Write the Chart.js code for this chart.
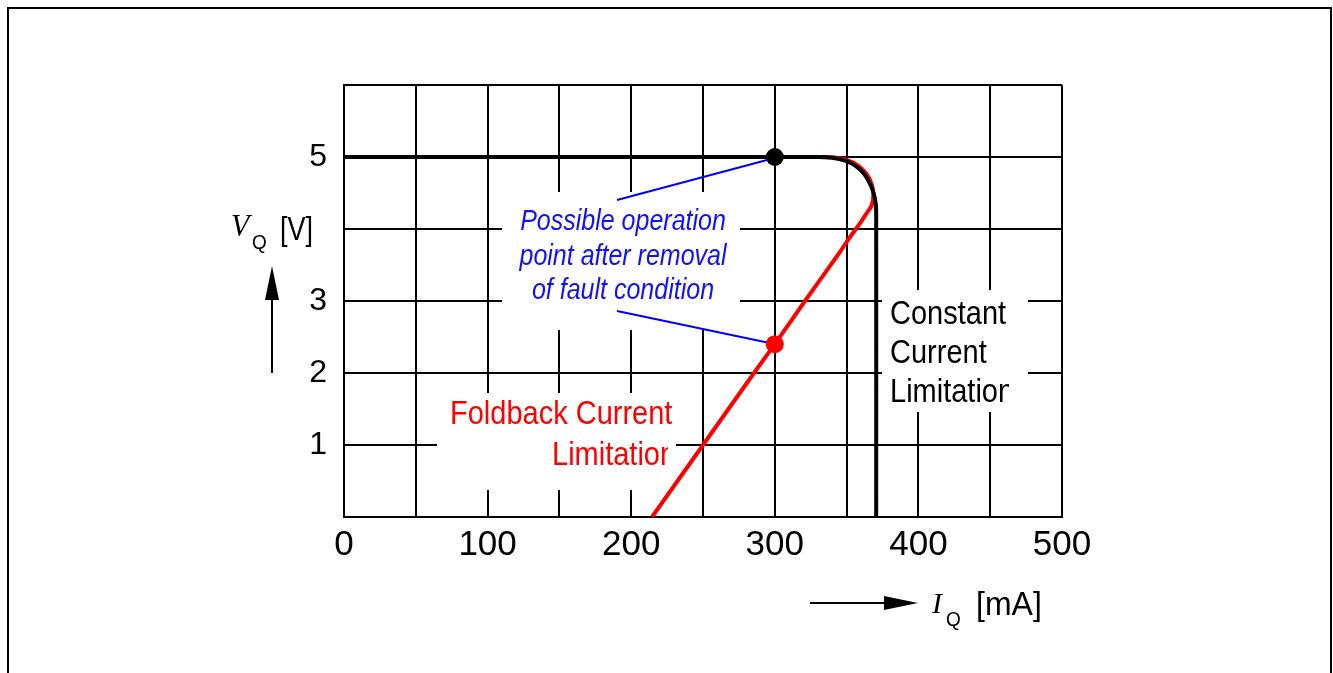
<!DOCTYPE html>
<html>
<head>
<meta charset="utf-8">
<script src="https://cdn.jsdelivr.net/npm/chart.js@4.4.0/dist/chart.umd.min.js"></script>
<style>
  html, body { margin: 0; padding: 0; background: #fff; }
</style>
</head>
<body>
<canvas id="check" width="1333" height="673"></canvas>
<script>
// output current IQ [mA] against output voltage VQ [V]
const foldbackI = [0, 330, 340, 350, 358, 364, 367.5, 368.6, 367.5, 364, 360, 356.5, 351, 345, 321, 300, 285.5, 250, 214.5];
const foldbackV = [5, 5, 4.995, 4.96, 4.88, 4.76, 4.62, 4.48, 4.33, 4.22, 4.1, 4.0, 3.85, 3.67, 3.0, 2.4, 2.0, 1.0, 0];
const constantI = [0, 330, 340, 349, 356, 362, 366, 368.8, 370.3, 370.6, 370.6];
const constantV = [5, 5, 4.99, 4.95, 4.88, 4.77, 4.64, 4.5, 4.35, 4.2, 0];
const operatingI = [300, 300];
const operatingV = [5, 2.4];
const xTickLabels = [0, 100, 200, 300, 400, 500];
const yTickLabels = [1, 2, 3, 5];

const toPoints = (xs, ys) => xs.map((x, i) => ({ x: x, y: ys[i] }));

const sans = "'Liberation Sans', Arial, sans-serif";
const serif = "'Liberation Serif', 'Times New Roman', serif";

// text drawn a bit taller than wide, like the original scan
function drawText(ctx, text, x, y, opt) {
    ctx.save();
    if (opt.clipRight) {
        ctx.beginPath();
        ctx.rect(0, 0, opt.clipRight, 673);
        ctx.clip();
    }
    ctx.font = opt.font;
    ctx.fillStyle = opt.color || '#000';
    ctx.textAlign = opt.align || 'left';
    ctx.textBaseline = 'middle';
    ctx.translate(x, y);
    ctx.scale(1, opt.sy || 1.2);
    ctx.fillText(text, 0, 0);
    ctx.restore();
}

function whiteBox(ctx, x0, y0, x1, y1) {
    ctx.fillStyle = '#fff';
    ctx.fillRect(x0, y0, x1 - x0, y1 - y0);
}

function line(ctx, x0, y0, x1, y1, color, w) {
    ctx.strokeStyle = color;
    ctx.lineWidth = w;
    ctx.beginPath();
    ctx.moveTo(x0, y0);
    ctx.lineTo(x1, y1);
    ctx.stroke();
}

function triangle(ctx, pts) {
    ctx.fillStyle = '#000';
    ctx.beginPath();
    ctx.moveTo(pts[0], pts[1]);
    ctx.lineTo(pts[2], pts[3]);
    ctx.lineTo(pts[4], pts[5]);
    ctx.closePath();
    ctx.fill();
}

const notes = {
    id: 'notes',
    beforeDatasetsDraw(chart) {
        const ctx = chart.ctx;
        const sx = chart.scales.x, sy = chart.scales.y;
        const dotTop = { x: sx.getPixelForValue(operatingI[0]), y: sy.getPixelForValue(operatingV[0]) };
        const dotLow = { x: sx.getPixelForValue(operatingI[1]), y: sy.getPixelForValue(operatingV[1]) };

        // blue note
        whiteBox(ctx, 502, 192, 740, 330);
        line(ctx, 617, 200, dotTop.x - 4, dotTop.y + 2, '#0000ff', 2);
        line(ctx, 617, 311, dotLow.x - 4, dotLow.y - 1, '#0000ff', 2);
        const blue = { font: 'italic 25px ' + sans, color: '#1010ff', align: 'center', clipRight: 727, sy: 1.2 };
        drawText(ctx, 'Possible operation', 623, 222, blue);
        drawText(ctx, 'point after removal', 623, 257, blue);
        drawText(ctx, 'of fault condition', 623, 291, blue);

        // red note
        whiteBox(ctx, 437, 393, 676, 490);
        const red = { font: '29px ' + sans, color: '#ff0000', sy: 1.17 };
        drawText(ctx, 'Foldback Current', 450, 415, red);
        drawText(ctx, 'Limitation', 552, 456, Object.assign({ clipRight: 668 }, red));

        // black note
        whiteBox(ctx, 882, 290, 1028, 412);
        const blk = { font: '29px ' + sans, color: '#000', sy: 1.17 };
        drawText(ctx, 'Constant', 890, 315, blk);
        drawText(ctx, 'Current', 890, 354, blk);
        drawText(ctx, 'Limitation', 890, 393, Object.assign({ clipRight: 1009 }, blk));
    },
    afterDraw(chart) {
        const ctx = chart.ctx;

        // y axis title + arrow
        drawText(ctx, 'V', 231, 228, { font: 'italic 30px ' + serif, sy: 1.05 });
        drawText(ctx, 'Q', 252, 243, { font: '19px ' + sans, sy: 1.1 });
        drawText(ctx, '[V]', 280, 231, { font: '27px ' + sans, sy: 1.25 });
        line(ctx, 272, 373, 272, 298, '#000', 2);
        triangle(ctx, [272, 266, 265, 300, 279, 300]);

        // x axis title + arrow
        line(ctx, 810, 603, 886, 603, '#000', 2);
        triangle(ctx, [918, 603, 884, 596, 884, 610]);
        drawText(ctx, 'I', 932, 605, { font: 'italic 30px ' + serif, sy: 1.0 });
        drawText(ctx, 'Q', 946, 620, { font: '19px ' + sans, sy: 1.1 });
        drawText(ctx, '[mA]', 976, 606, { font: '32px ' + sans, sy: 1.05 });

        // page frame
        ctx.strokeStyle = '#000';
        ctx.lineWidth = 2;
        ctx.strokeRect(8, 8, 1323, 700);
    }
};

new Chart(document.getElementById('check'), {
    type: 'scatter',
    data: {
        datasets: [
            {
                label: 'operation points',
                data: toPoints(operatingI, operatingV),
                showLine: false,
                pointRadius: 9,
                pointBorderWidth: 0,
                pointBackgroundColor: ['#000000', '#ff0000'],
                pointBorderColor: ['#000000', '#ff0000'],
                order: 0,
            },
            {
                label: 'Constant Current Limitation',
                data: toPoints(constantI, constantV),
                showLine: true,
                borderColor: '#000000',
                borderWidth: 4,
                pointRadius: 0,
                tension: 0.3,
                order: 1,
            },
            {
                label: 'Foldback Current Limitation',
                data: toPoints(foldbackI, foldbackV),
                showLine: true,
                borderColor: '#ff0000',
                borderWidth: 4,
                pointRadius: 0,
                tension: 0.3,
                order: 2,
            },
        ],
    },
    options: {
        responsive: false,
        animation: false,
        layout: {
            padding: { left: 284, top: 85, right: 271, bottom: 96 },
        },
        plugins: {
            legend: { display: false },
            tooltip: { enabled: false },
        },
        scales: {
            x: {
                type: 'linear',
                min: 0,
                max: 500,
                afterFit(scale) { scale.height = 60; },
                grid: { color: '#000', lineWidth: 2, drawTicks: false },
                border: { display: true, color: '#000', width: 2 },
                ticks: {
                    stepSize: 50,
                    autoSkip: false,
                    maxRotation: 0,
                    padding: 7,
                    color: '#000',
                    font: { family: sans, size: 35 },
                    callback: (v) => xTickLabels.includes(v) ? String(v) : '',
                },
            },
            y: {
                min: 0,
                max: 6,
                afterFit(scale) { scale.width = 60; },
                grid: { color: '#000', lineWidth: 2, drawTicks: false },
                border: { display: true, color: '#000', width: 2 },
                ticks: {
                    stepSize: 1,
                    padding: 17,
                    color: '#000',
                    font: { family: sans, size: 32 },
                    callback: (v) => yTickLabels.includes(v) ? String(v) : '',
                },
            },
        },
    },
    plugins: [notes],
});
</script>
</body>
</html>
